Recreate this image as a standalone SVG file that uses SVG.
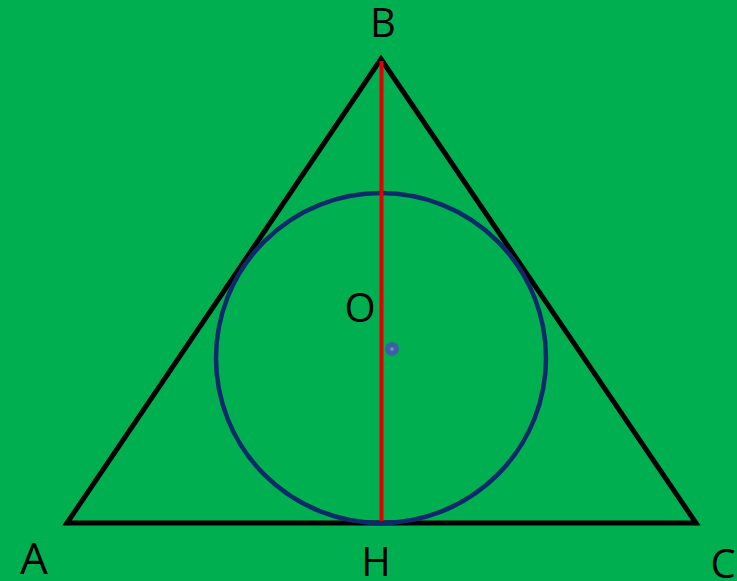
<svg xmlns="http://www.w3.org/2000/svg" width="737" height="581" viewBox="0 0 737 581">
<style>
.lbl{font-family:"Open Sans","Liberation Sans",sans-serif;font-size:40px;fill:#000;text-anchor:middle}
</style>
<rect width="737" height="581" fill="#00b050"/>
<g id="triangle"><polygon points="67,523 381,59 696,523" fill="none" stroke="#000" stroke-width="5" stroke-linejoin="miter"/></g>
<g id="incircle"><circle cx="381" cy="358" r="165" fill="none" stroke="#0f2a6b" stroke-width="4.5"/></g>
<g id="connectors"><line x1="381.5" y1="61" x2="381.5" y2="521" stroke="#e00000" stroke-width="4"/></g>
<g id="center"><circle cx="392" cy="349" r="7" fill="#3d5fa3"/><circle cx="392" cy="349" r="2" fill="#6a86c4"/></g>
<g id="labels">
<text class="lbl" x="383" y="37">B</text>
<text class="lbl" x="360" y="322">O</text>
<text class="lbl" x="34" y="574" style="font-size:44px">A</text>
<text class="lbl" x="376" y="576">H</text>
<text class="lbl" x="723" y="578">C</text>
</g>
</svg>
